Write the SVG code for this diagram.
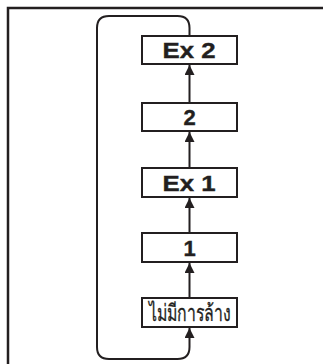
<svg xmlns="http://www.w3.org/2000/svg" width="323" height="364" viewBox="0 0 323 364">
<style>
.box{fill:#fff;stroke:#231f20;stroke-width:2}
.lbl{font-family:"Liberation Sans",Arial,sans-serif;font-weight:bold;font-size:22px;fill:#231f20;stroke:#231f20;stroke-width:0.4;text-anchor:middle}
.th{font-family:"Liberation Sans","Noto Sans","DejaVu Sans",sans-serif;font-weight:normal;font-size:23px;fill:#231f20;stroke:#231f20;stroke-width:0.3;text-anchor:middle}
.conn{fill:none;stroke:#231f20;stroke-width:2}
.frame{fill:none;stroke:#231f20;stroke-width:2.5}
</style>
<defs>
<marker id="ah" markerUnits="userSpaceOnUse" markerWidth="11" markerHeight="10" refX="10" refY="5" orient="auto">
<path d="M0,0 L10,5 L0,10 z" fill="#231f20"/>
</marker>
</defs>
<rect width="323" height="364" fill="#fff"/>
<path class="frame" d="M8,364 V8 H323"/>
<g id="connectors">
<path class="conn" d="M189.5,36 V28 Q189.5,16 177.5,16 H109 Q97,16 97,28 V347 Q97,359 109,359 H177.5 Q189.5,359 189.5,347 V328" marker-end="url(#ah)"/>
<path class="conn" d="M189.5,298 V263" marker-end="url(#ah)"/>
<path class="conn" d="M189.5,233 V198" marker-end="url(#ah)"/>
<path class="conn" d="M189.5,168 V132" marker-end="url(#ah)"/>
<path class="conn" d="M189.5,103 V65" marker-end="url(#ah)"/>
</g>
<g id="ex2">
<rect class="box" x="142" y="36" width="95" height="28"/>
<text class="lbl" x="189" y="58" textLength="53" lengthAdjust="spacingAndGlyphs">Ex 2</text>
</g>
<g id="n2">
<rect class="box" x="142" y="103" width="95" height="28"/>
<text class="lbl" x="189.5" y="125">2</text>
</g>
<g id="ex1">
<rect class="box" x="142" y="168" width="95" height="29"/>
<text class="lbl" x="189" y="190.5" textLength="53" lengthAdjust="spacingAndGlyphs">Ex 1</text>
</g>
<g id="n1">
<rect class="box" x="142" y="233" width="95" height="29"/>
<text class="lbl" x="189.5" y="255.5">1</text>
</g>
<g id="none">
<rect class="box" x="142" y="298" width="95" height="29"/>
<text class="th" x="189.5" y="320.5" textLength="82" lengthAdjust="spacingAndGlyphs">ไม่มีการล้าง</text>
</g>
</svg>
